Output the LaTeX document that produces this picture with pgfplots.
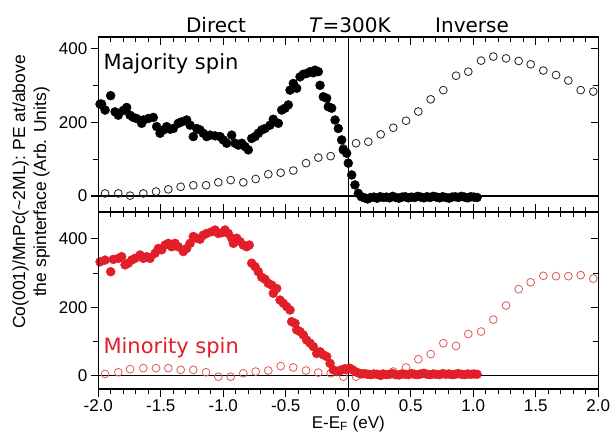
\documentclass[border=0pt]{standalone}
\usepackage{pgfplots}
\pgfplotsset{compat=1.18}
\usepackage{fontspec}
\setmainfont{Liberation Sans}
\newfontfamily\dejavu{DejaVu Sans}
\definecolor{myred}{RGB}{226,30,40}
\definecolor{mylred}{RGB}{222,95,95}
\definecolor{mygray}{RGB}{40,40,40}

\pgfplotstableread{
E V
-1.986 249
-1.973 249
-1.946 233
-1.901 272
-1.866 228
-1.840 219
-1.800 232
-1.773 240
-1.746 219
-1.720 213
-1.693 210
-1.653 197
-1.640 206
-1.600 210
-1.560 213
-1.533 188
-1.506 170
-1.480 179
-1.453 188
-1.426 181
-1.400 183
-1.360 197
-1.333 201
-1.293 206
-1.266 192
-1.240 161
-1.213 183
-1.186 179
-1.160 170
-1.133 161
-1.106 165
-1.066 163
-1.026 161
-1.000 152
-0.973 143
-0.933 165
-0.906 143
-0.880 138
-0.853 143
-0.826 134
-0.800 125
-0.773 156
-0.746 161
-0.720 170
-0.693 179
-0.666 183
-0.626 192
-0.600 208
-0.560 197
-0.533 233
-0.506 238
-0.480 247
-0.466 287
-0.440 305
-0.413 292
-0.386 323
-0.360 330
-0.333 332
-0.306 337
-0.280 334
-0.266 341
-0.240 337
-0.226 300
-0.200 269
-0.173 265
-0.160 242
-0.133 238
-0.106 206
-0.080 183
-0.053 152
-0.040 125
-0.013 116
0.000 89
0.027 57
0.053 30
0.080 7
0.105 -2
0.130 -5
0.155 -8
0.180 -4
0.205 -3
0.230 -6
0.255 -2
0.280 -4
0.305 -3
0.330 -5
0.355 -1
0.380 -4
0.405 -6
0.430 -3
0.455 -2
0.480 -5
0.505 -3
0.530 -4
0.555 -1
0.580 -3
0.605 -5
0.630 -2
0.655 -4
0.680 -1
0.705 -3
0.730 -5
0.755 -2
0.780 -4
0.805 -6
0.830 -3
0.855 -2
0.880 -4
0.905 -1
0.930 -3
0.955 -5
0.980 -2
1.005 -3
1.030 -4
}\majdir

\pgfplotstableread{
E V
-1.946 7
-1.840 7
-1.746 1
-1.640 7
-1.538 12
-1.440 18
-1.341 25
-1.240 29
-1.138 29
-1.040 37
-0.941 43
-0.840 37
-0.741 46
-0.640 59
-0.541 63
-0.440 69
-0.338 89
-0.240 104
-0.141 108
-0.040 129
0.062 143
0.160 147
0.259 167
0.360 185
0.462 204
0.560 229
0.659 262
0.760 287
0.862 326
0.960 337
1.062 367
1.160 378
1.262 373
1.363 366
1.459 357
1.560 340
1.662 328
1.760 313
1.859 287
1.960 283
}\majinv

\pgfplotstableread{
E V
-1.986 333
-1.946 338
-1.901 304
-1.880 340
-1.840 343
-1.813 348
-1.786 324
-1.760 329
-1.733 338
-1.706 343
-1.666 353
-1.640 343
-1.613 348
-1.586 343
-1.546 358
-1.520 372
-1.493 368
-1.466 382
-1.440 387
-1.413 377
-1.386 387
-1.360 377
-1.320 363
-1.293 372
-1.266 387
-1.240 407
-1.213 402
-1.186 399
-1.160 411
-1.133 416
-1.093 421
-1.066 426
-1.040 416
-1.013 418
-0.986 426
-0.960 416
-0.933 402
-0.920 387
-0.893 402
-0.866 392
-0.840 382
-0.813 377
-0.792 382
-0.773 329
-0.746 319
-0.720 304
-0.693 288
-0.666 282
-0.640 270
-0.613 265
-0.600 241
-0.573 255
-0.546 221
-0.520 212
-0.493 202
-0.466 192
-0.453 158
-0.426 153
-0.413 134
-0.386 129
-0.360 119
-0.333 104
-0.306 95
-0.280 85
-0.253 65
-0.226 70
-0.200 61
-0.173 56
-0.146 36
-0.120 17
-0.093 12
-0.066 15
-0.053 17
-0.030 20
-0.013 19
0.010 22
0.030 18
0.055 12
0.080 8
0.105 5
0.130 6
0.155 4
0.180 3
0.205 5
0.230 4
0.255 2
0.280 5
0.305 3
0.330 4
0.355 6
0.380 3
0.405 2
0.430 5
0.455 4
0.480 3
0.505 6
0.530 4
0.555 3
0.580 5
0.605 7
0.630 4
0.655 3
0.680 5
0.705 4
0.730 3
0.755 6
0.780 4
0.805 5
0.830 3
0.855 4
0.880 6
0.905 4
0.930 3
0.955 5
0.980 4
1.005 5
1.030 4
}\mindir

\pgfplotstableread{
E V
-1.946 5
-1.840 10
-1.746 19
-1.640 22
-1.538 22
-1.440 22
-1.341 17
-1.240 17
-1.138 10
-1.040 -3
-0.941 -3
-0.840 7
-0.741 12
-0.640 15
-0.541 28
-0.440 24
-0.338 15
-0.240 9
-0.141 7
-0.040 -3
0.062 -3
0.160 5
0.259 -1
0.360 12
0.462 24
0.560 48
0.659 63
0.760 95
0.862 87
0.960 122
1.062 129
1.160 164
1.262 205
1.363 253
1.459 273
1.560 292
1.662 291
1.760 291
1.859 294
1.960 284
}\mininv

\pgfplotsset{
  panel/.style={
    scale only axis, width=500pt, anchor=south west,
    xmin=-2, xmax=2,
    axis line style={line width=1.4pt},
    every tick/.style={black, line width=1.1pt},
    major tick length=7.5pt, minor tick length=5pt,
    xtick={-2,-1.5,-1,-0.5,0,0.5,1,1.5,2},
    minor x tick num=4,
    ytick={0,200,400}, minor ytick={100,300},
    tick label style={font=\fontsize{17}{17}\selectfont},
  },
  filled/.style={only marks, mark=*, mark size=4.5pt},
  open/.style={only marks, mark=o, mark size=3.9pt, mark options={line width=0.85pt}},
}

\begin{document}
\begin{tikzpicture}[x=1pt,y=1pt]
\path[use as bounding box] (0pt,0pt) rectangle (611pt,437pt);

% ---- top panel ----
\begin{axis}[panel, at={(98.3pt,225pt)}, height=175pt, ymin=-43.4, ymax=431,
  xtick pos=both, ytick pos=right, tick align=inside,
  xticklabels={}, yticklabels={}]
\addplot[black, line width=1.3pt] coordinates {(-2,0) (2,0)};
\addplot[black, line width=1.6pt] coordinates {(0,-43.4) (0,431)};
\addplot[open, mygray] table[x=E,y=V] {\majinv};
\addplot[filled, black] table[x=E,y=V] {\majdir};
\end{axis}
\begin{axis}[panel, at={(98.3pt,225pt)}, height=175pt, ymin=-43.4, ymax=431,
  hide x axis, ytick pos=left, tick align=outside,
  yticklabels={0,200,400}]
\end{axis}

% ---- bottom panel ----
\begin{axis}[panel, at={(98.3pt,48pt)}, height=177pt, ymin=-39, ymax=478.7,
  xtick pos=top, ytick pos=right, tick align=inside,
  xticklabels={}, yticklabels={}]
\addplot[black, line width=1.3pt] coordinates {(-2,0) (2,0)};
\addplot[black, line width=1.6pt] coordinates {(0,-39) (0,478.7)};
\addplot[open, mylred] table[x=E,y=V] {\mininv};
\addplot[filled, myred] table[x=E,y=V] {\mindir};
\end{axis}
\begin{axis}[panel, at={(98.3pt,48pt)}, height=177pt, ymin=-39, ymax=478.7,
  xtick pos=bottom, ytick pos=left, tick align=outside,
  xticklabels={-2.0,-1.5,-1.0,-0.5,0.0,0.5,1.0,1.5,2.0},
  yticklabels={0,200,400}]
\end{axis}

% ---- texts ----
\node[anchor=base west, inner sep=0, font=\dejavu\fontsize{21}{21}\selectfont] at (103.3pt,367pt) {Majority spin};
\node[anchor=base west, inner sep=0, text=myred, font=\dejavu\fontsize{21}{21}\selectfont] at (103.3pt,83pt) {Minority spin};
\node[anchor=base, inner sep=0, font=\dejavu\fontsize{20}{20}\selectfont] at (216pt,404pt) {Direct};
\node[anchor=base, inner sep=0, font=\dejavu\fontsize{20}{20}\selectfont] at (350pt,404pt) {\textit{T}=300K};
\node[anchor=base, inner sep=0, font=\dejavu\fontsize{20}{20}\selectfont] at (472pt,404pt) {Inverse};
\node[rotate=90, align=center, inner sep=0, font=\fontsize{17.5}{21}\selectfont] at (31pt,245pt)
  {Co(001)/MnPc(\textasciitilde2ML): PE at/above\\the spinterface (Arb. Units)};
\node[anchor=base, inner sep=0, font=\fontsize{17}{17}\selectfont] at (348.3pt,9pt) {E-E\textsubscript{F} (eV)};
\end{tikzpicture}
\end{document}
